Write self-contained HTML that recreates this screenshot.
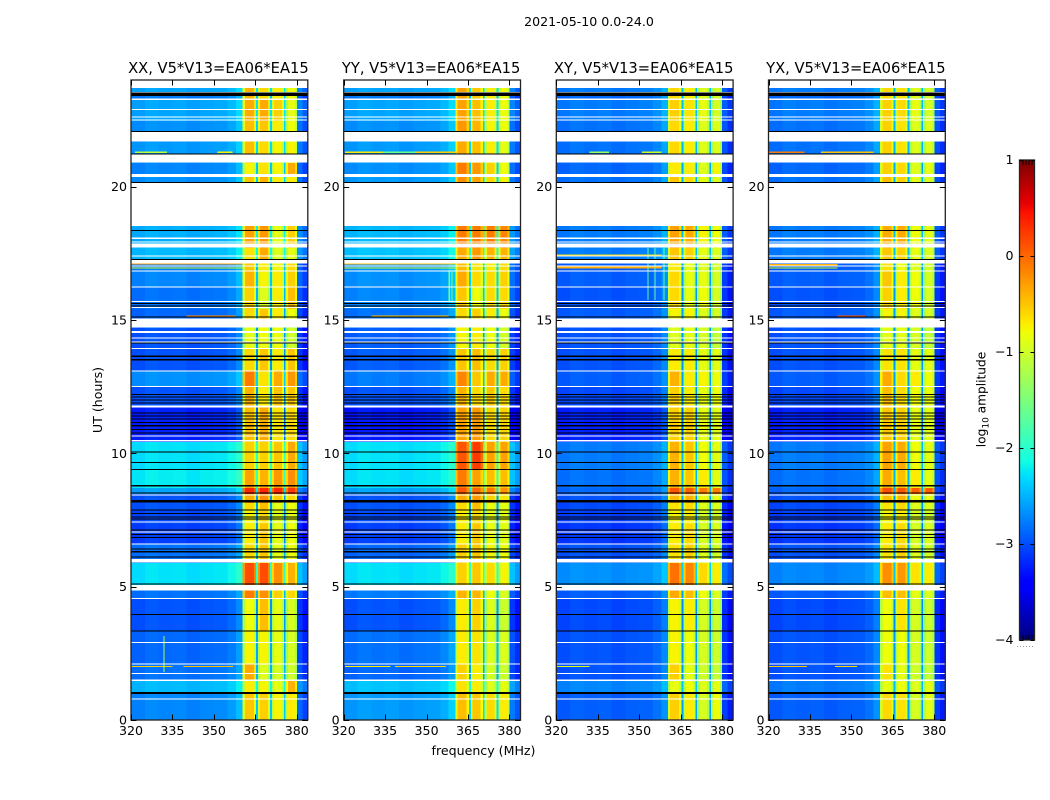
<!DOCTYPE html>
<html lang="en">
<head>
<meta charset="utf-8">
<title>2021-05-10 0.0-24.0</title>
<style>
html,body{margin:0;padding:0;background:#fff;}
svg{display:block;font-family:"DejaVu Sans","Liberation Sans",sans-serif;fill:#000;}
</style>
</head>
<body>
<svg id="figure" xmlns="http://www.w3.org/2000/svg" width="1050" height="800" viewBox="0 0 1050 800">
<rect x="0" y="0" width="1050" height="800" fill="#fff"/>
<text x="589" y="26" text-anchor="middle" font-size="12.6">2021-05-10 0.0-24.0</text>
<text transform="translate(102,400) rotate(-90)" text-anchor="middle" font-size="12.6">UT (hours)</text>
<text x="483.5" y="755" text-anchor="middle" font-size="12.6">frequency (MHz)</text>
<g id="panels"></g>
<g id="colorbar"></g>
<text transform="translate(985.5,399.5) rotate(-90)" text-anchor="middle" font-size="12.2">log<tspan font-size="9" dy="3">10</tspan><tspan dy="-3"> amplitude</tspan></text>
</svg>
<script>
// Time segment edges in UT hours
const timeEdges = [0,1.01,1.5,2.1,3.34,4.58,4.84,5.06,5.89,6.6,7.35,7.88,8.14,8.48,8.7,9.38,10.43,11.78,12.49,13.09,13.91,14.7,15.06,15.41,16.24,16.84,17.18,17.7,18.53,20.18,20.4,20.89,21.68,22.46,23.25,23.4,23.7,24];
// Frequency channel edges in MHz
const channelEdges = [320,325,330,335,340,345,350,355,358,360.4,361.2,364.5,365.3,366,366.7,369.6,370.4,371,371.8,374.6,375.4,376,376.8,379.3,380,382,384];
// Which level of a row feeds each channel (0 = continuum, 1-4 = sub-bands) and its log offset
const channelSource = [0,0,0,0,0,0,0,0,0,1,1,1,0,2,2,2,0,3,3,3,0,4,4,4,0,0];
const channelOffset = [0,.06,.03,.05,0,.04,.06,.14,.3,-.4,0,-.3,.35,-.4,0,-.3,.35,-.4,0,-.3,.35,-.4,0,-.3,-.12,-.3];

// Log10 amplitude rows: [continuum, sub-band 1, 2, 3, 4], one per time segment
const levelsXX = [[-2.75,-.5,-.55,-.75,-.7],[-2.5,-.7,-.75,-.85,-.4],[-2.85,-.35,-.9,-.95,-1],[-2.9,-.75,-.75,-.85,-.95],[-3,-.8,-.45,-.85,-.95],[-2.85,-.1,-.2,-.55,-.6],[-2.85,-.1,-.2,-.55,-.6],[-2.3,.15,.15,-.2,-.4],[-2.85,-.6,-.5,-.85,-.8],[-3.1,-.7,-.5,-.85,-.8],[-3.05,-.75,-.6,-.9,-.85],[-3,-.6,-.45,-.85,-.8],[-3,-.35,-.2,-.5,-.6],[-2.6,.35,.35,.35,.25],[-2.25,-.3,-.4,-.25,-.2],[-2.3,-.55,-.55,-.5,-.35],[-3.25,-.45,-.35,-.65,-.6],[-3,-.4,-.7,-.5,-.5],[-2.7,-.1,-.65,-.35,-.25],[-3,-.6,-.5,-.7,-.5],[-3,-.85,-.8,-.8,-1],[-2.9,-.85,-.8,-.8,-1],[-2.9,-.6,-.5,-.7,-.8],[-2.85,-.55,-.9,-.7,-.45],[-2.75,-.4,-.75,-.7,-.55],[-2.8,-.5,-.7,-.75,-.6],[-2.5,-.65,-.35,-.9,-.85],[-2.55,-.3,-.25,-.85,-.55],null,[-2.7,-.5,-.4,-.7,-.7],[-2.75,-.75,-.65,-.75,-.35],[-2.65,-.45,-.6,-.75,-.75],[-2.7,-.45,-.5,-.7,-.8],[-2.6,-.35,-.35,-.55,-.85],[-2.8,-.4,-.6,-.7,-.8],[-2.6,-.4,-.6,-.7,-.8],[-2.5,-.15,-.6,-.7,-.8]];
const levelsYY = [[-2.65,-.45,-.5,-.6,-.7],[-2.45,-.65,-.7,-.9,-.85],[-2.9,-.55,-.7,-.95,-1],[-2.85,-.7,-.65,-.9,-.9],[-3,-.7,-.55,-.9,-1],[-2.8,-.4,-.4,-.8,-.9],[-2.8,-.4,-.4,-.8,-.9],[-2.3,-.55,-.5,-.6,-.75],[-2.9,-.55,-.5,-.75,-.8],[-3.1,-.7,-.5,-.8,-.85],[-3.05,-.7,-.6,-.85,-.85],[-3,-.6,-.45,-.8,-.85],[-3,-.35,-.25,-.55,-.65],[-2.6,.1,0,-.1,-.2],[-2.3,-.1,-.3,-.45,-.45],[-2.3,.1,.25,-.3,-.3],[-3.3,-.3,-.25,-.6,-.55],[-3,-.4,-.6,-.5,-.6],[-2.8,-.15,-.5,-.35,-.35],[-2.95,-.5,-.45,-.6,-.55],[-2.95,-.75,-.7,-.8,-.95],[-2.85,-.75,-.7,-.8,-.95],[-2.85,-.6,-.55,-.7,-.8],[-2.75,-.5,-.8,-.6,-.6],[-2.7,-.35,-.6,-.6,-.55],[-2.7,-.45,-.65,-.7,-.6],[-2.45,-.35,-.25,-.4,-.4],[-2.5,-.1,-.1,-.1,-.15],null,[-2.65,-.2,-.3,-.6,-.75],[-2.7,-.1,-.25,-.55,-.8],[-2.65,-.35,-.45,-.7,-.85],[-2.7,-.25,-.4,-.75,-.8],[-2.6,-.3,-.45,-.7,-.8],[-2.8,-.3,-.5,-.7,-.8],[-2.6,-.3,-.5,-.7,-.8],[-2.45,-.25,-.3,-.6,-.7]];
const levelsXY = [[-2.95,-.55,-.7,-.95,-.8],[-2.75,-.85,-.8,-.9,-.85],[-3,-.55,-.85,-1,-1.05],[-3,-.75,-.8,-.95,-1],[-3.05,-.75,-.7,-.95,-1],[-2.95,-.35,-.45,-.8,-.9],[-2.95,-.35,-.45,-.8,-.9],[-2.7,-.05,-.15,-.6,-.7],[-3,-.65,-.55,-.9,-.95],[-3.15,-.7,-.6,-.95,-.9],[-3.1,-.75,-.7,-.95,-.95],[-3.05,-.65,-.6,-.9,-.9],[-3,-.45,-.4,-.8,-.85],[-2.9,.1,.05,-.1,-.1],[-2.85,-.4,-.5,-.7,-.85],[-2.8,-.4,-.5,-.8,-.85],[-3.25,-.55,-.55,-.85,-.85],[-3.05,-.55,-.7,-.85,-.8],[-2.95,-.4,-.7,-.75,-.8],[-3,-.7,-.7,-.85,-.85],[-3,-.9,-.85,-.95,-1.05],[-3,-.9,-.85,-.95,-1.05],[-2.95,-.75,-.75,-.9,-.95],[-3,-.6,-.85,-.8,-.95],[-2.95,-.6,-.85,-.85,-.95],[-2.95,-.7,-.85,-.9,-.95],[-2.8,-.5,-.55,-.85,-.9],[-2.8,-.3,-.35,-.75,-.8],null,[-2.85,-.5,-.6,-.85,-.9],[-2.9,-.7,-.7,-.9,-.75],[-2.85,-.6,-.7,-.9,-.9],[-2.85,-.6,-.7,-.9,-.9],[-2.8,-.55,-.65,-.85,-.95],[-2.9,-.6,-.7,-.9,-.95],[-2.8,-.6,-.7,-.9,-.95],[-2.7,-.45,-.7,-.85,-.95]];
const levelsYX = [[-2.95,-.6,-.65,-.95,-.85],[-2.8,-.85,-.8,-.9,-.85],[-3,-.65,-.85,-1,-1.05],[-3,-.8,-.8,-.95,-1],[-3.05,-.8,-.65,-.95,-1],[-2.95,-.45,-.45,-.85,-.9],[-2.95,-.45,-.45,-.85,-.9],[-2.75,-.2,-.25,-.65,-.7],[-3,-.65,-.55,-.9,-.95],[-3.15,-.7,-.6,-.95,-.9],[-3.1,-.75,-.7,-.95,-.95],[-3.05,-.65,-.6,-.9,-.9],[-3,-.45,-.4,-.8,-.85],[-2.9,.15,.1,.05,.05],[-2.85,-.35,-.45,-.7,-.85],[-2.8,-.3,-.35,-.8,-.85],[-3.25,-.5,-.55,-.85,-.85],[-3.05,-.45,-.6,-.8,-.8],[-2.95,-.35,-.6,-.7,-.8],[-3,-.65,-.65,-.85,-.85],[-3,-.85,-.85,-.95,-1.05],[-3,-.85,-.85,-.95,-1.05],[-2.95,-.75,-.75,-.9,-.95],[-3,-.55,-.7,-.8,-.95],[-2.95,-.5,-.7,-.8,-.95],[-2.95,-.65,-.8,-.9,-.95],[-2.8,-.5,-.55,-.85,-.9],[-2.8,-.35,-.35,-.8,-.85],null,[-2.85,-.45,-.55,-.85,-.9],[-2.9,-.55,-.6,-.9,-.85],[-2.85,-.55,-.65,-.9,-.9],[-2.85,-.55,-.65,-.9,-.9],[-2.8,-.55,-.6,-.85,-.95],[-2.9,-.6,-.65,-.9,-.95],[-2.8,-.6,-.65,-.9,-.95],[-2.7,-.35,-.6,-.85,-.95]];

// Narrow interference: [hour start, hour end, MHz start, MHz end, log amplitude]
const rfiXX = [[1.98,2.03,320,335,-.55],[1.98,2.03,339,357,-.45],[1.8,3.15,331.7,332.1,-1.2],[21.27,21.32,321.5,333,-1.1],[21.27,21.32,351.4,356.8,-.75],[17.08,17.12,320,360.4,-.3],[16.93,16.97,320,360.4,-1],[15.13,15.17,340,358,-.2]];
const rfiYY = [[1.98,2.03,320.5,337,-.7],[1.98,2.03,338.5,357,-.6],[21.27,21.32,320.4,334,-.7],[21.27,21.32,334,346,-1.6],[21.27,21.32,346,361,-.55],[17.08,17.12,320,360.4,-.5],[16.93,16.97,320,360.4,-1],[15.13,15.17,330,358,-.5],[15.7,16.85,358,358.4,-1.5],[15.6,16.8,359,359.4,-1.5]];
const rfiXY = [[1.98,2.03,320,332,-.9],[21.27,21.32,332,339,-1.3],[21.27,21.32,351,358,-1],[16.93,17,320,358,-.35],[17.42,17.46,320,358,-.6],[15.75,17.7,353,353.35,-1.7],[15.75,17.7,355.5,355.85,-1.7],[15.75,17.7,358.8,359.2,-1.7]];
const rfiYX = [[1.98,2.03,320,334,-.5],[1.98,2.03,344,352,-.6],[21.27,21.32,320,333,-.1],[21.27,21.32,339,358,-.5],[17.05,17.1,320,345,-.4],[16.93,16.97,320,345,-1],[15.13,15.17,345,355,.1]];

// Flagged time ranges drawn white (no data)
const whiteFlags = [[23.7,24],[23.51,23.55],[23.25,23.31],[22.88,22.91],[22.59,22.63],[22.48,22.51],[21.69,22.05],[20.9,21.21],[20.36,20.48],[18.53,20.14],[18.04,18.09],[17.91,17.94],[17.71,17.87],[17.39,17.42],[17.11,17.25],[17,17.05],[16.83,16.86],[16.23,16.26],[15.67,15.71],[15.45,15.48],[14.71,15.06],[14.51,14.58],[14.33,14.35],[14.16,14.19],[13.91,13.95],[13.09,13.11],[12.49,12.52],[11.71,11.79],[10.65,10.67],[10.44,10.5],[8.42,8.45],[7.41,7.44],[7.03,7.06],[6.58,6.61],[5.9,6.04],[4.85,5.06],[4.55,4.57],[2.89,2.92],[2.08,2.11],[1.74,1.77],[1.46,1.52],[.77,.8]];
// Flagged time ranges drawn black (zero amplitude)
const blackFlags = [[23.4,23.53],[22.05,22.09],[21.21,21.25],[20.14,20.18],[18.33,18.37],[17.25,17.29],[15.6,15.64],[15.5,15.54],[15.09,15.13],[14.12,14.16],[13.62,13.66],[13.49,13.53],[12.19,12.23],[12.09,12.13],[11.98,12.02],[11.86,11.9],[11.5,11.54],[11.38,11.42],[11.26,11.3],[11.14,11.18],[11,11.07],[10.88,10.92],[10.75,10.79],[10.03,10.07],[9.63,9.67],[9.38,9.42],[8.76,8.82],[8.49,8.53],[8.15,8.25],[7.86,7.9],[7.73,7.77],[7.6,7.64],[7.52,7.56],[7.1,7.14],[6.94,6.98],[6.83,6.87],[6.39,6.43],[6.29,6.33],[6.1,6.14],[5.08,5.12],[3.93,3.97],[3.32,3.36],[.97,1.05]];

const panelTitles = ["XX, V5*V13=EA06*EA15","YY, V5*V13=EA06*EA15","XY, V5*V13=EA06*EA15","YX, V5*V13=EA06*EA15"];
const panelKeys = ["xx","yy","xy","yx"];
const panelLevels = [levelsXX,levelsYY,levelsXY,levelsYX];
const panelRfi = [rfiXX,rfiYY,rfiXY,rfiYX];
const freqTicks = [320,335,350,365,380];
const timeTicks = [0,5,10,15,20];
const colorbarTicks = [1,0,-1,-2,-3,-4];

const NS = "http://www.w3.org/2000/svg";
const panelLeft = [131,343.7,556.3,768.5];
const panelWidth = 176.8;
const plotTop = 80, plotBottom = 720;
const freqMin = 320, freqMax = 384, hourMax = 24;
const logMin = -4, logMax = 1;

function yScale(h){ return plotBottom - (h / hourMax) * (plotBottom - plotTop); }
function xScale(f, left){ return left + (f - freqMin) / (freqMax - freqMin) * panelWidth; }
function jetChannel(t, a, b, c, d){
  if (t < a) return 0;
  if (t < b) return (t - a) / (b - a);
  if (t < c) return 1;
  if (t < d) return 1 - (t - c) / (d - c);
  return 0;
}
function jet(v){
  const t = Math.max(0, Math.min(1, (v - logMin) / (logMax - logMin)));
  const r = t < .89 ? jetChannel(t,.35,.66,2,3) : 1 - (t - .89) / .11 * .5;
  const g = jetChannel(t,.125,.375,.64,.91);
  const b = t < .11 ? .5 + t / .11 * .5 : jetChannel(t,-1,0,.34,.65);
  return "rgb(" + Math.round(r*255) + "," + Math.round(g*255) + "," + Math.round(b*255) + ")";
}
function rect(parent, name, x, y, w, h, fill){
  const el = document.createElementNS(NS, "rect");
  
  
  el.setAttribute("x", x.toFixed(2));
  el.setAttribute("y", y.toFixed(2));
  el.setAttribute("width", w.toFixed(2));
  el.setAttribute("height", h.toFixed(2));
  el.setAttribute("fill", fill);
  parent.appendChild(el);
  return el;
}
function line(parent, name, x1, y1, x2, y2){
  const el = document.createElementNS(NS, "line");
  
  
  el.setAttribute("x1", x1);
  el.setAttribute("y1", y1);
  el.setAttribute("x2", x2);
  el.setAttribute("y2", y2);
  el.setAttribute("stroke", "#000");
  el.setAttribute("stroke-width", "1");
  parent.appendChild(el);
}
function label(parent, name, x, y, anchor, size, str){
  const el = document.createElementNS(NS, "text");
  
  
  el.setAttribute("x", x);
  el.setAttribute("y", y);
  el.setAttribute("text-anchor", anchor);
  el.setAttribute("font-size", size);
  el.textContent = str;
  parent.appendChild(el);
}
const panelsGroup = document.getElementById("panels");
panelKeys.forEach(function(key, p){
  const left = panelLeft[p], right = left + panelWidth;
  const g = document.createElementNS(NS, "g");
  
  
  panelsGroup.appendChild(g);
  const cells = document.createElementNS(NS, "g");
  
  
  cells.setAttribute("shape-rendering", "crispEdges");
  g.appendChild(cells);
  panelLevels[p].forEach(function(row, s){
    if (!row) return;
    const y0 = yScale(timeEdges[s+1]), y1 = yScale(timeEdges[s]);
    channelSource.forEach(function(src, c){
      const x0 = xScale(channelEdges[c], left), x1 = xScale(channelEdges[c+1], left);
      rect(cells, "heatmap-cell", x0, y0, x1 - x0, y1 - y0, jet(row[src] + channelOffset[c]));
    });
  });
  panelRfi[p].forEach(function(r){
    const x0 = xScale(r[2], left), x1 = xScale(r[3], left), y0 = yScale(r[1]), y1 = yScale(r[0]);
    rect(cells, "rfi-line", x0, y0, Math.max(1, x1 - x0), Math.max(1, y1 - y0), jet(r[4]));
  });
  whiteFlags.forEach(function(f){
    const y0 = yScale(f[1]), y1 = yScale(f[0]);
    rect(cells, "flag-white", left, y0, panelWidth, Math.max(1, y1 - y0), "#fff");
  });
  blackFlags.forEach(function(f){
    const y0 = yScale(f[1]), y1 = yScale(f[0]);
    rect(cells, "flag-black", left, y0, panelWidth, Math.max(1, y1 - y0), "#000");
  });
  const frame = rect(g, "panel-frame", left, plotTop, panelWidth, plotBottom - plotTop, "none");
  frame.setAttribute("stroke", "#222");
  frame.setAttribute("stroke-width", "1.3");
  freqTicks.forEach(function(f){
    const x = Math.round(xScale(f, left)) + .5;
    line(g, "x-tick-bottom", x, plotBottom, x, plotBottom - 5.5);
    line(g, "x-tick-top", x, plotTop, x, plotTop + 5.5);
    label(g, "x-tick-label", xScale(f, left), 735, "middle", 12.6, String(f));
  });
  timeTicks.forEach(function(h){
    const y = Math.round(yScale(h)) + .5;
    line(g, "y-tick-left", left, y, left + 5.5, y);
    line(g, "y-tick-right", right, y, right - 5.5, y);
    label(g, "y-tick-label", left - 4, yScale(h) + 4.5, "end", 12.6, String(h));
  });
  label(g, "panel-title-" + key, left + panelWidth / 2 - 1, 73, "middle", 14.7, panelTitles[p]);
});

// Colorbar
const cbGroup = document.getElementById("colorbar");
const cbLeft = 1019.5, cbWidth = 15, cbTop = 160, cbBottom = 640;
const cbY = function(v){ return cbBottom - (v - logMin) / (logMax - logMin) * (cbBottom - cbTop); };
const cbSteps = document.createElementNS(NS, "g");


cbSteps.setAttribute("shape-rendering", "crispEdges");
cbGroup.appendChild(cbSteps);
for (let i = 0; i < 240; i++) {
  const v0 = logMin + (logMax - logMin) * i / 240;
  const v1 = logMin + (logMax - logMin) * (i + 1) / 240;
  rect(cbSteps, "colorbar-step", cbLeft, cbY(v1), cbWidth, cbY(v0) - cbY(v1) + .5, jet((v0 + v1) / 2));
}
const cbFrame = rect(cbGroup, "colorbar-frame", cbLeft, cbTop, cbWidth, cbBottom - cbTop, "none");
cbFrame.setAttribute("stroke", "#222");
cbFrame.setAttribute("stroke-width", "1.3");
colorbarTicks.forEach(function(v){
  const y = Math.round(cbY(v)) + .5;
  line(cbGroup, "colorbar-tick-left", cbLeft, y, cbLeft + 4, y);
  line(cbGroup, "colorbar-tick-right", cbLeft + cbWidth, y, cbLeft + cbWidth - 4, y);
  label(cbGroup, "colorbar-tick-label", cbLeft - 6, cbY(v) + 4, "end", 12.6, String(v).replace("-", "\u2212"));
});
[3,6,9,12].forEach(function(dx){
  line(cbGroup, "colorbar-minor-tick", cbLeft + dx + .5, cbTop, cbLeft + dx + .5, cbTop + 5);
  line(cbGroup, "colorbar-minor-tick", cbLeft + dx + .5, cbBottom, cbLeft + dx + .5, cbBottom - 5);
});
const cbDots = document.createElementNS(NS, "line");


cbDots.setAttribute("x1", "1017");
cbDots.setAttribute("y1", "646.5");
cbDots.setAttribute("x2", "1035");
cbDots.setAttribute("y2", "646.5");
cbDots.setAttribute("stroke", "#999");
cbDots.setAttribute("stroke-width", "1");
cbDots.setAttribute("stroke-dasharray", "1 2");
cbGroup.appendChild(cbDots);
</script>
</body>
</html>
